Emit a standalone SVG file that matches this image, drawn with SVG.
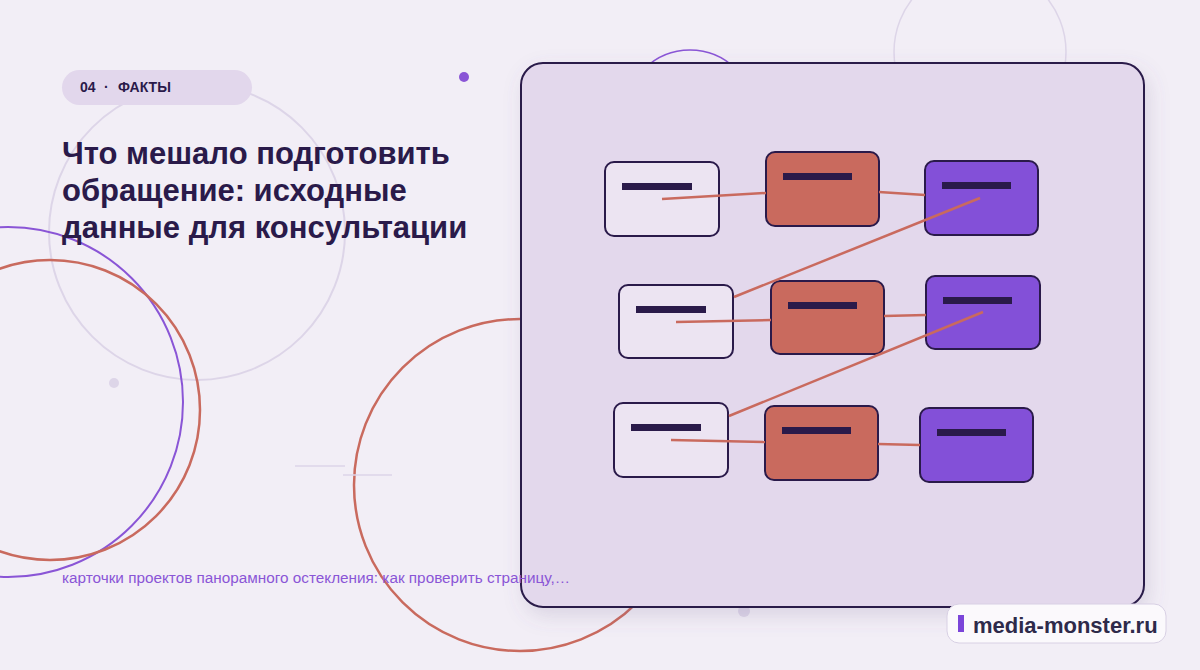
<svg xmlns="http://www.w3.org/2000/svg" width="1200" height="670" viewBox="0 0 1200 670">
<defs>
<style>
.w{fill:#ece4f2;stroke:#2a1a4a;stroke-width:2}
.o{fill:#c96a5e;stroke:#2a1a4a;stroke-width:2}
.p{fill:#8350d8;stroke:#2a1a4a;stroke-width:2}
.bar{fill:#2a1a4a}
.c{stroke:#c96a5e;stroke-width:2.5;fill:none}
</style>
<filter id="sh" x="-10%" y="-10%" width="130%" height="130%"><feDropShadow dx="4" dy="8" stdDeviation="10" flood-color="#6a5a8a" flood-opacity="0.18"/></filter>
</defs>
<rect width="1200" height="670" fill="#f2eef6"/>
<g fill="none">
<circle cx="197" cy="232" r="148" stroke="#ddd5e8" stroke-width="2"/>
<circle cx="8" cy="402" r="175" stroke="#8a55d6" stroke-width="2"/>
<circle cx="50" cy="410" r="150" stroke="#c96a5e" stroke-width="2.5"/>
<circle cx="520" cy="485" r="166" stroke="#c96a5e" stroke-width="2.5"/>
<circle cx="690" cy="115" r="65" stroke="#8a55d6" stroke-width="1.5"/>
<circle cx="980" cy="52" r="86" stroke="#ddd5e8" stroke-width="1.5"/>
<line x1="295" y1="466" x2="345" y2="466" stroke="#ddd5e8" stroke-width="1.5"/>
<line x1="343" y1="475" x2="392" y2="475" stroke="#ddd5e8" stroke-width="1.5"/>
</g>
<circle cx="464" cy="77" r="5" fill="#8a55d6"/>
<circle cx="114" cy="383" r="5" fill="#ddd5e8"/>
<circle cx="744" cy="611" r="6" fill="#ddd5e8"/>
<rect x="62" y="70" width="190" height="35" rx="17.5" fill="#e2d7ec"/>
<g font-family="Liberation Sans, Arial, sans-serif" font-size="14" font-weight="bold" fill="#2a1a4a">
<text x="80" y="92">04</text><text x="104" y="92">·</text><text x="118" y="92">ФАКТЫ</text>
</g>
<g font-family="Liberation Sans, Arial, sans-serif" font-size="31" font-weight="bold" fill="#2a1a4a">
<text x="62" y="164">Что мешало подготовить</text>
<text x="62" y="201">обращение: исходные</text>
<text x="62" y="238">данные для консультации</text>
</g>
<rect x="521" y="63" width="623" height="544" rx="22" fill="#e3d8ec" stroke="#2a1a4a" stroke-width="2" filter="url(#sh)"/>
<text x="62" y="583" font-family="Liberation Sans, Arial, sans-serif" font-size="15.3" fill="#8a55d6">карточки проектов панорамного остекления: как проверить страницу,…</text>
<g id="n1"><rect class="w" x="605" y="162" width="114" height="74" rx="9"/><rect class="bar" x="622" y="183" width="70" height="7"/></g>
<g id="n2"><rect class="o" x="766" y="152" width="113" height="74" rx="9"/><rect class="bar" x="783" y="173" width="69" height="7"/></g>
<g id="n3"><rect class="p" x="925" y="161" width="113" height="74" rx="9"/><rect class="bar" x="942" y="182" width="69" height="7"/></g>
<g id="n4"><rect class="w" x="619" y="285" width="114" height="73" rx="9"/><rect class="bar" x="636" y="306" width="70" height="7"/></g>
<g id="n5"><rect class="o" x="771" y="281" width="113" height="73" rx="9"/><rect class="bar" x="788" y="302" width="69" height="7"/></g>
<g id="n6"><rect class="p" x="926" y="276" width="114" height="73" rx="9"/><rect class="bar" x="943" y="297" width="69" height="7"/></g>
<g id="n7"><rect class="w" x="614" y="403" width="114" height="74" rx="9"/><rect class="bar" x="631" y="424" width="70" height="7"/></g>
<g id="n8"><rect class="o" x="765" y="406" width="113" height="74" rx="9"/><rect class="bar" x="782" y="427" width="69" height="7"/></g>
<g id="n9"><rect class="p" x="920" y="408" width="113" height="74" rx="9"/><rect class="bar" x="937" y="429" width="69" height="7"/></g>
<g id="connectors" class="c">
<line class="c" x1="662" y1="199" x2="766" y2="193"/>
<line class="c" x1="879" y1="192" x2="925" y2="195"/>
<line class="c" x1="980" y1="198" x2="734" y2="297"/>
<line class="c" x1="676" y1="322" x2="771" y2="320"/>
<line class="c" x1="884" y1="316" x2="926" y2="315"/>
<line class="c" x1="983" y1="312" x2="729" y2="416"/>
<line class="c" x1="671" y1="440" x2="765" y2="442"/>
<line class="c" x1="878" y1="444" x2="920" y2="445"/>
</g>
<g id="badge">
<rect x="947" y="604" width="219" height="39" rx="12" fill="#fbf9fc" stroke="#d8d0e4" stroke-width="1"/>
<rect x="958" y="615" width="6" height="17" fill="#7b45d9"/>
<text x="973" y="633" font-family="Liberation Sans, Arial, sans-serif" font-size="22" font-weight="bold" fill="#2e2a4a">media-monster.ru</text>
</g>
</svg>
